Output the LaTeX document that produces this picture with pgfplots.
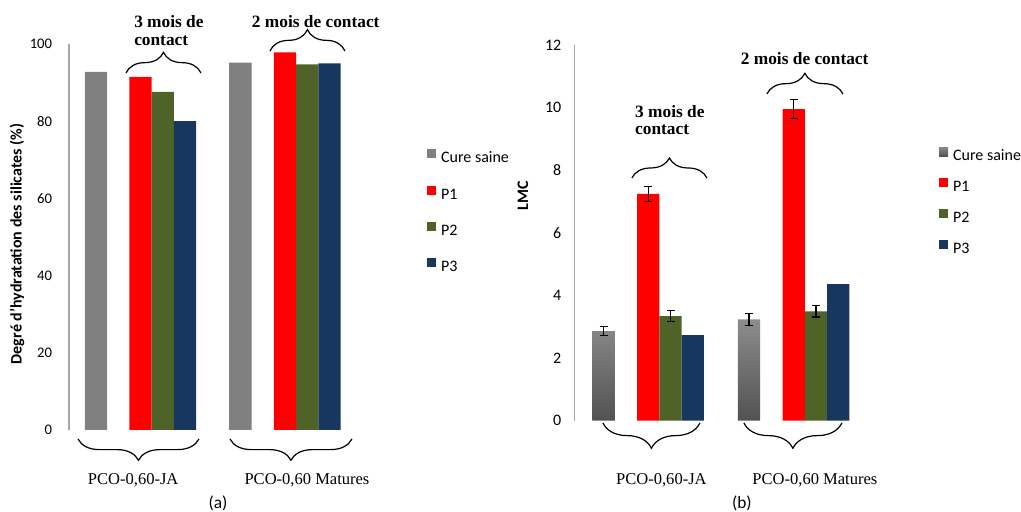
\documentclass[border=0pt]{standalone}
\usepackage{fontspec}
\setmainfont{Liberation Serif}
\setsansfont{Carlito}
\usepackage{pgfplots}
\pgfplotsset{compat=1.18}
\usetikzlibrary{decorations.pathreplacing}
\definecolor{cgray}{HTML}{808080}
\definecolor{cred}{HTML}{FF0000}
\definecolor{cgreen}{HTML}{4F6228}
\definecolor{cblue}{HTML}{17375E}
\definecolor{axgray}{HTML}{A6A6A6}
\pgfplotsset{
  sqlegend/.style={legend image code/.code={\fill[##1,/tikz/.cd,draw=none] (0pt,0pt) rectangle (6.75pt,6.75pt);}},
  common/.style={
    scale only axis,
    axis x line=none,
    axis y line=left,
    y axis line style={-, draw=axgray, line width=0.8pt},
    major tick length=0pt,
    xtick=\empty,
    clip=false,
    /pgf/number format/assume math mode=true,
    yticklabel style={anchor=east, inner sep=0pt},
    ylabel style={font=\sffamily\bfseries\fontsize{12}{14}\selectfont, anchor=center},
    legend cell align=left,
    legend style={draw=none, fill=none, inner sep=0pt, column sep=3.75pt,
      font=\sffamily\fontsize{12}{14}\selectfont,
      nodes={inner sep=0pt, text height=8.5pt, text depth=2pt}},
  },
  errs/.style={forget plot, draw=none, mark=none,
      error bars/.cd, y dir=both, y explicit,
      error bar style={draw=black, solid, line width=0.9pt},
      error mark options={rotate=90, draw=black, solid, mark size=3pt, line width=0.9pt}},
}
\begin{document}
\begin{tikzpicture}
% ---------------- (a) ----------------
\begin{axis}[common, at={(51.75pt,61.5pt)}, anchor=south west,
  width=218.25pt, height=289.5pt,
  xmin=-0.495, xmax=1.519, ymin=0, ymax=100, ytick={0,20,...,100},
  yticklabel style={xshift=-12.5pt, font=\sffamily\fontsize{11}{13}\selectfont},
  ylabel={Degré d{\char"0027}hydratation des silicates (\%)},
  ylabel style={at={(axis description cs:-0.1787,0.482)}},
  legend style={at={(axis description cs:1.230,0.565)}, anchor=west, row sep=15.3pt},
]
\addplot[ybar, bar width=0.1543, bar shift=-0.3086, fill=cgray, draw=none, sqlegend]
  coordinates {(0,92.8) (1,95.2)};
\addlegendentry{Cure saine}
\addplot[ybar, bar width=0.1543, bar shift=0, fill=cred, draw=none, sqlegend]
  coordinates {(0,91.5) (1,97.8)};
\addlegendentry{P1}
\addplot[ybar, bar width=0.1543, bar shift=0.1543, fill=cgreen, draw=none, sqlegend]
  coordinates {(0,87.6) (1,94.7)};
\addlegendentry{P2}
\addplot[ybar, bar width=0.1543, bar shift=0.3086, fill=cblue, draw=none, sqlegend]
  coordinates {(0,80.0) (1,95.0)};
\addlegendentry{P3}
\end{axis}
% ---------------- (b) ----------------
\begin{axis}[common, at={(431.25pt,68.5pt)}, anchor=south west,
  width=221.25pt, height=281.8pt,
  xmin=-0.504, xmax=1.524, ymin=0, ymax=12, ytick={0,2,...,12},
  yticklabel style={xshift=-10pt, font=\sffamily\fontsize{12}{14}\selectfont},
  ylabel={LMC},
  ylabel style={at={(axis description cs:-0.176,0.598)}},
  legend style={at={(axis description cs:1.234,0.583)}, anchor=west, row sep=11.3pt},
]
\addplot[ybar, bar width=0.1533, bar shift=-0.3066, draw=none,
  top color=black!45, bottom color=black!68, sqlegend]
  coordinates {(0,2.86) (1,3.23)};
\addlegendentry{Cure saine}
\addplot[ybar, bar width=0.1533, bar shift=0, fill=cred, draw=none, sqlegend]
  coordinates {(0,7.24) (1,9.95)};
\addlegendentry{P1}
\addplot[ybar, bar width=0.1533, bar shift=0.1533, fill=cgreen, draw=none, sqlegend]
  coordinates {(0,3.34) (1,3.49)};
\addlegendentry{P2}
\addplot[ybar, bar width=0.1533, bar shift=0.3066, fill=cblue, draw=none, sqlegend]
  coordinates {(0,2.73) (1,4.36)};
\addlegendentry{P3}
% error bars (placed at the bar centres)
\addplot[errs] coordinates {(-0.3066,2.86) +- (0,0.15) (0.6934,3.23) +- (0,0.18)};
\addplot[errs] coordinates {(0,7.24) +- (0,0.23) (1,9.95) +- (0,0.30)};
\addplot[errs] coordinates {(0.1533,3.34) +- (0,0.17) (1.1533,3.49) +- (0,0.18)};
\end{axis}
% ---------------- annotations (pixel coordinates) ----------------
\begin{scope}[x=0.75pt, y=-0.75pt, yshift=384pt]
\path[use as bounding box] (0,0) rectangle (1021,512);
\tikzset{br/.style={decorate, decoration={brace, amplitude=#1}, line width=0.9pt, black}}
% (a) braces
\draw[br=16pt] (199,439) -- (78,439);
\draw[br=16pt] (352,439) -- (230,439);
\draw[br=15.5pt] (126,73) -- (201,73);
\draw[br=16pt] (270,51) -- (345,51);
% (b) braces
\draw[br=19pt] (700,423) -- (603,423);
\draw[br=19pt] (842,423) -- (744,423);
\draw[br=15pt] (632,178) -- (707,178);
\draw[br=15.5pt] (767,94) -- (843,94);
% texts
\tikzset{bt/.style={anchor=base west, inner sep=0pt, font=\bfseries\fontsize{13}{15}\selectfont},
         ct/.style={anchor=base west, inner sep=0pt, font=\fontsize{12.4}{14}\selectfont}}
\node[bt] at (134,27.5) {3 mois de};
\node[bt] at (134,45.5) {contact};
\node[bt] at (251.7,27.3) {2 mois de contact};
\node[bt] at (635,117.3) {3 mois de};
\node[bt] at (635,135) {contact};
\node[bt] at (740.7,64.3) {2 mois de contact};
\node[ct] at (87.7,485) {PCO-0,60-JA};
\node[ct] at (244.3,485) {PCO-0,60 Matures};
\node[ct] at (616,485) {PCO-0,60-JA};
\node[ct] at (752.3,485) {PCO-0,60 Matures};
\node[inner sep=0pt, font=\sffamily\fontsize{13}{15}\selectfont] at (218,503) {(a)};
\node[inner sep=0pt, font=\sffamily\fontsize{13}{15}\selectfont] at (742,503) {(b)};
\end{scope}
\end{tikzpicture}
\end{document}
